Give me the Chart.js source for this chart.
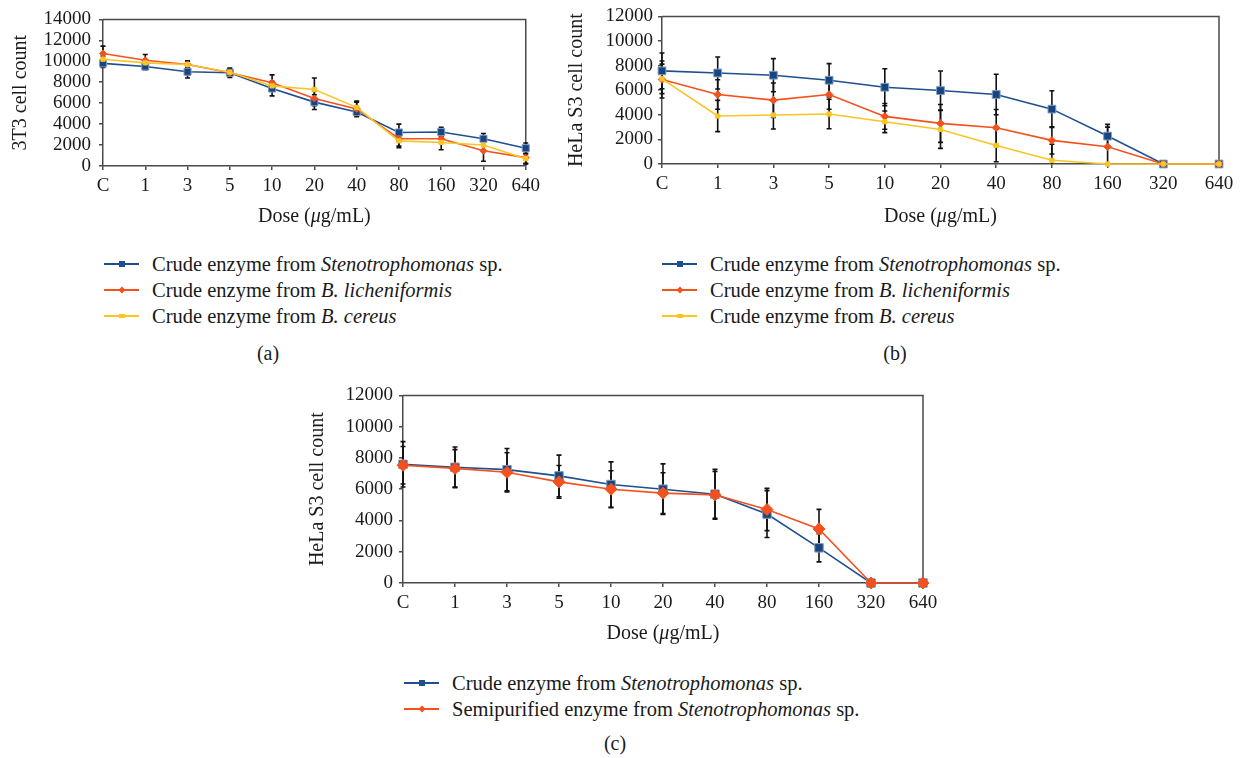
<!DOCTYPE html>
<html>
<head>
<meta charset="utf-8">
<script src="https://cdn.jsdelivr.net/npm/chart.js@4.4.1/dist/chart.umd.min.js"></script>
<style>
  html, body { margin: 0; padding: 0; background: #fff; }
  body { width: 1242px; height: 758px; position: relative; overflow: hidden; font-family: "Liberation Serif", serif; color: #1a1a1a; }
  .box { position: absolute; }
  .legend { position: absolute; font-size: 20.5px; line-height: 26px; white-space: nowrap; }
  .row { display: flex; align-items: center; height: 26px; }
  .sample { position: relative; width: 35px; height: 2px; margin-right: 13px; }
  .mk { position: absolute; left: 50%; top: 50%; }
  .lab { position: absolute; font-size: 20px; transform: translate(-50%, -50%); }
</style>
</head>
<body>
<div class="box" id="boxA" style="left:0px;top:0px;width:545px;height:235px"><canvas id="cA"></canvas></div>
<div class="box" id="boxB" style="left:560px;top:0px;width:682px;height:235px"><canvas id="cB"></canvas></div>
<div class="box" id="boxC" style="left:300px;top:378px;width:650px;height:275px"><canvas id="cC"></canvas></div>
<div class="legend" id="legA" style="left:104px;top:251px"></div>
<div class="legend" id="legB" style="left:662px;top:251px"></div>
<div class="legend" id="legC" style="left:404px;top:670px"></div>
<div class="lab" style="left:268px;top:353px">(a)</div>
<div class="lab" style="left:895px;top:353px">(b)</div>
<div class="lab" style="left:615px;top:743px">(c)</div>
<script>
// ---------- data ----------
const doses = ['C', '1', '3', '5', '10', '20', '40', '80', '160', '320', '640'];

// (a) 3T3 cells
const aSteno    = [9800, 9500, 9000, 8900, 7400, 6100, 5150, 3200, 3250, 2600, 1700];
const aStenoErr = [400, 300, 600, 450, 700, 700, 450, 800, 450, 500, 500];
const aLich     = [10750, 10100, 9700, 8900, 7950, 6450, 5450, 2600, 2600, 1450, 800];
const aLichErr  = [700, 550, 350, 300, 750, 700, 650, 850, 400, 1000, 600];
const aCer      = [10200, 9850, 9700, 8950, 7650, 7300, 5600, 2400, 2250, 2000, 700];
const aCerErr   = [300, 300, 300, 300, 400, 1100, 600, 500, 700, 500, 450];
const aTicks    = [0, 2000, 4000, 6000, 8000, 10000, 12000, 14000];

// (b) HeLa S3 cells
const bSteno    = [7570, 7400, 7220, 6810, 6240, 5970, 5650, 4460, 2270, 0, 0];
const bStenoErr = [1450, 1300, 1350, 1350, 1500, 1590, 1650, 1490, 950, 0, 0];
const bLich     = [6870, 5650, 5190, 5650, 3870, 3300, 2950, 1920, 1400, 0, 0];
const bLichErr  = [1500, 1200, 1400, 1200, 1050, 1540, 1480, 1110, 1600, 0, 0];
const bCer      = [6920, 3900, 3980, 4060, 3430, 2810, 1510, 300, 0, 0, 0];
const bCerErr   = [1200, 1270, 1130, 1200, 880, 1540, 1330, 1300, 0, 0, 0];
const bTicks    = [0, 2000, 4000, 6000, 8000, 10000, 12000];

// (c) HeLa S3 cells, crude vs semipurified
const cCrude    = [7590, 7400, 7250, 6850, 6300, 6000, 5680, 4410, 2250, 0, 0];
const cCrudeErr = [1450, 1300, 1350, 1330, 1450, 1620, 1600, 1500, 900, 0, 0];
const cSemi     = [7530, 7330, 7080, 6470, 6000, 5750, 5640, 4700, 3460, 0, 0];
const cSemiErr  = [1200, 1200, 1250, 1050, 1180, 1300, 1500, 1350, 1250, 0, 0];
const cTicks    = [0, 2000, 4000, 6000, 8000, 10000, 12000];

// legend names: [plain, italic, plain]
const namesAB = [
  ['Crude enzyme from ', 'Stenotrophomonas', ' sp.'],
  ['Crude enzyme from ', 'B. licheniformis', ''],
  ['Crude enzyme from ', 'B. cereus', '']
];
const namesC = [
  ['Crude enzyme from ', 'Stenotrophomonas', ' sp.'],
  ['Semipurified enzyme from ', 'Stenotrophomonas', ' sp.']
];
const yTitleA = '3T3 cell count';
const yTitleBC = 'HeLa S3 cell count';
const xTitleParts = ['Dose (', '\u03bc', 'g/mL)'];  // middle part italic

// ---------- styles ----------
const BLUE = '#1f4f8f', BLUE_MK = '#17457f';
const RED = '#f4511e';
const YEL = '#f9c525';
const FONT = '"Liberation Serif", "Times New Roman", serif';
const AXIS = '#4a4a4a';
const TXT = '#1a1a1a';

const errorBars = {
  id: 'errorBars',
  beforeDatasetsDraw(chart) {
    const { ctx, chartArea, scales: { x, y } } = chart;
    ctx.save();
    ctx.strokeStyle = AXIS; ctx.lineWidth = 1.5;
    ctx.beginPath();
    ctx.moveTo(chartArea.left, chartArea.top);
    ctx.lineTo(chartArea.right, chartArea.top);
    ctx.lineTo(chartArea.right, chartArea.bottom);
    ctx.stroke();
    ctx.strokeStyle = '#111'; ctx.lineWidth = 1.6;
    chart.data.datasets.forEach((ds) => {
      if (!ds.errors) return;
      ds.data.forEach((v, j) => {
        const e = ds.errors[j];
        if (!e) return;
        const xp = x.getPixelForValue(j);
        const lo = v - e;
        const yT = y.getPixelForValue(v + e);
        const yB = y.getPixelForValue(Math.max(lo, y.min));
        ctx.beginPath();
        ctx.moveTo(xp, yT); ctx.lineTo(xp, yB);
        ctx.moveTo(xp - 2.5, yT); ctx.lineTo(xp + 2.5, yT);
        if (lo >= y.min) { ctx.moveTo(xp - 2.5, yB); ctx.lineTo(xp + 2.5, yB); }
        ctx.stroke();
      });
    });
    ctx.restore();
  }
};

const xTitlePlugin = {
  id: 'xTitleMixed',
  afterDraw(chart, args, opts) {
    const { ctx, chartArea } = chart;
    const fs = 20;
    const fonts = [`${fs}px ${FONT}`, `italic ${fs}px ${FONT}`, `${fs}px ${FONT}`];
    ctx.save();
    ctx.fillStyle = TXT; ctx.textBaseline = 'middle'; ctx.textAlign = 'left';
    const widths = xTitleParts.map((p, i) => { ctx.font = fonts[i]; return ctx.measureText(p).width; });
    const total = widths.reduce((a, b) => a + b, 0);
    let xx = (chartArea.left + chartArea.right) / 2 - total / 2;
    const yy = chart.height - opts.fromBottom;
    xTitleParts.forEach((p, i) => { ctx.font = fonts[i]; ctx.fillText(p, xx, yy); xx += widths[i]; });
    ctx.restore();
  }
};

function ds(data, errors, color, mkColor, style, radius, order, mkBorder) {
  return {
    data, errors,
    borderColor: color, borderWidth: 1.6,
    backgroundColor: mkColor,
    pointBackgroundColor: mkColor,
    pointBorderColor: mkBorder || mkColor,
    pointBorderWidth: 1,
    pointStyle: style, pointRadius: radius, pointHoverRadius: radius,
    tension: 0, order, clip: false
  };
}

function makeChart(id, datasets, ticks, yTitle, cfg) {
  return new Chart(document.getElementById(id), {
    type: 'line',
    data: { labels: doses, datasets },
    options: {
      responsive: true, maintainAspectRatio: false, animation: false,
      devicePixelRatio: 1,
      layout: { padding: { left: 0, right: cfg.padRight, top: cfg.padTop, bottom: 0 } },
      plugins: { legend: { display: false }, tooltip: { enabled: false }, xTitleMixed: { fromBottom: cfg.xTitleFromBottom } },
      events: [],
      scales: {
        x: {
          type: 'category', offset: false,
          grid: { display: true, drawOnChartArea: false, drawTicks: true, tickLength: 4, color: AXIS, lineWidth: 1.5 },
          border: { display: true, color: AXIS, width: 1.5 },
          ticks: { color: TXT, font: { family: FONT, size: 19 }, padding: cfg.xPad, maxRotation: 0, autoSkip: false },
          title: { display: false },
          afterFit(s) { s.height = cfg.xHeight; }
        },
        y: {
          min: ticks[0], max: ticks[ticks.length - 1],
          afterBuildTicks(s) { s.ticks = ticks.map(v => ({ value: v })); },
          grid: { display: true, drawOnChartArea: false, drawTicks: true, tickLength: 4, color: AXIS, lineWidth: 1.5 },
          border: { display: true, color: AXIS, width: 1.5 },
          ticks: { color: TXT, font: { family: FONT, size: 19 }, padding: cfg.yPad, autoSkip: false, callback: v => String(v) },
          title: { display: true, text: yTitle, color: TXT, font: { family: FONT, size: 20 }, padding: { top: cfg.yTitlePad, bottom: 0 } },
          afterFit(s) { s.width = cfg.yWidth; }
        }
      }
    },
    plugins: [errorBars, xTitlePlugin]
  });
}

makeChart('cA', [
  ds(aSteno, aStenoErr, BLUE, BLUE_MK, 'rect', 5, 3, '#7f9cc4'),
  ds(aLich, aLichErr, RED, RED, 'rectRot', 3.5, 2),
  ds(aCer, aCerErr, YEL, YEL, 'rect', 3, 1)
], aTicks, yTitleA, { padRight: 18, padTop: 16, xHeight: 69, yWidth: 103, xPad: 5, yPad: 8, xTitleFromBottom: 18, yTitlePad: 9 });

makeChart('cB', [
  ds(bSteno, bStenoErr, BLUE, BLUE_MK, 'rect', 5.5, 3, '#7f9cc4'),
  ds(bLich, bLichErr, RED, RED, 'rectRot', 3.8, 2),
  ds(bCer, bCerErr, YEL, YEL, 'rect', 3, 1)
], bTicks, yTitleBC, { padRight: 23, padTop: 16, xHeight: 71, yWidth: 102, xPad: 5, yPad: 5, xTitleFromBottom: 18, yTitlePad: 5 });

makeChart('cC', [
  ds(cCrude, cCrudeErr, BLUE, BLUE_MK, 'rect', 6, 2, '#7f9cc4'),
  ds(cSemi, cSemiErr, RED, RED, 'rectRot', 6, 1)
], cTicks, yTitleBC, { padRight: 27, padTop: 16, xHeight: 70, yWidth: 103, xPad: 5, yPad: 6, xTitleFromBottom: 19, yTitlePad: 6 });

// ---------- legends ----------
function marker(style, color, size) {
  const m = document.createElement('span');
  m.className = 'mk';
  m.style.background = color;
  if (style === 'square') {
    m.style.width = size + 'px'; m.style.height = size + 'px';
    m.style.transform = 'translate(-50%,-50%)';
  } else if (style === 'diamond') {
    m.style.width = size + 'px'; m.style.height = size + 'px';
    m.style.transform = 'translate(-50%,-50%) rotate(45deg)';
  } else {
    m.style.width = size + 'px'; m.style.height = (size - 2) + 'px';
    m.style.transform = 'translate(-50%,-50%)';
  }
  return m;
}
function buildLegend(id, names, colors, styles) {
  const el = document.getElementById(id);
  names.forEach((n, i) => {
    const row = document.createElement('div'); row.className = 'row';
    const s = document.createElement('span'); s.className = 'sample';
    s.style.background = colors[i];
    s.appendChild(marker(styles[i], colors[i], styles[i] === 'diamond' ? 5 : 6));
    row.appendChild(s);
    const t = document.createElement('span');
    t.appendChild(document.createTextNode(n[0]));
    const em = document.createElement('i'); em.textContent = n[1]; t.appendChild(em);
    if (n[2]) t.appendChild(document.createTextNode(n[2]));
    row.appendChild(t);
    el.appendChild(row);
  });
}
buildLegend('legA', namesAB, [BLUE, RED, YEL], ['square', 'diamond', 'dash']);
buildLegend('legB', namesAB, [BLUE, RED, YEL], ['square', 'diamond', 'dash']);
buildLegend('legC', namesC, [BLUE, RED], ['square', 'diamond']);
</script>
</body>
</html>
